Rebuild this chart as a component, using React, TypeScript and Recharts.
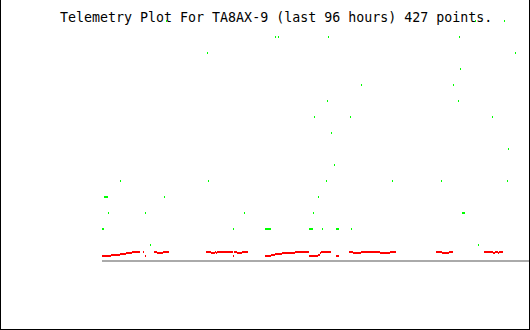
import React from "react";
import { ScatterChart, Scatter, XAxis, YAxis, ReferenceLine } from "recharts";

// hours since start of the 96 hour window, and the level of each green reading
const greenHours = [
  14.5, 23.72, 4.16, 23.94, 0.56, 0.79, 1.01, 1.24, 14.05, 1.46, 9.78, 32.04,
  0.11, 0.34, 29.56, 10.9, 39.01, 39.68, 50.92, 58.34, 50.7, 47.78, 55.87,
  51.6, 52.27, 50.47, 48.67, 47.55, 36.76, 36.98, 37.21, 37.43, 37.66, 37.88,
  46.65, 46.88, 47.1, 47.33, 49.57, 52.72, 52.95, 53.17, 56.09, 83.97, 90.49,
  80.37, 92.96, 80.6, 79.03, 80.15, 87.79, 91.39, 65.31, 76.33, 91.17, 81.05,
  81.27, 81.5, 84.65,
];
const greenLevels = [
  15, 13, 5, 5, 4, 4, 4, 4, 4, 3, 3, 3,
  2, 2, 2, 1, 14, 14, 14, 11, 10, 9, 9,
  8, 6, 5, 4, 3, 2, 2, 2, 2, 2, 2,
  2, 2, 2, 2, 2, 2, 2, 2, 2, 15, 15,
  14, 13, 12, 11, 10, 9, 7, 5, 5, 5, 3,
  3, 3, 1,
];

// red readings held at one level: [from hour, to hour, value]
const redRuns: [number, number, number][] = [
  [0, 2.02, 0.3125], [2.02, 4.05, 0.375], [4.05, 5.4, 0.4375], [5.4, 6.74, 0.5],
  [6.74, 8.54, 0.5625], [9.22, 9.44, 0.5625], [9.67, 9.89, 0.3125],
  [11.69, 12.37, 0.5625], [12.37, 13.71, 0.5], [13.71, 15.06, 0.5625],
  [23.38, 24.51, 0.5625], [24.51, 25.41, 0.5], [25.41, 25.63, 0.5625],
  [25.63, 25.86, 0.5], [25.86, 29.45, 0.5625], [29.45, 29.68, 0.3125],
  [29.68, 30.35, 0.5625], [30.35, 31.48, 0.5], [31.48, 32.82, 0.5625],
  [36.65, 38.0, 0.3125], [38.0, 38.89, 0.375], [38.89, 40.47, 0.4375],
  [40.47, 43.39, 0.5], [43.39, 46.54, 0.5625], [46.54, 48.56, 0.3125],
  [48.56, 49.01, 0.375], [49.01, 49.24, 0.5], [49.24, 51.48, 0.5625],
  [52.61, 53.28, 0.3125], [55.53, 56.43, 0.5625], [56.43, 58.23, 0.5],
  [58.23, 62.5, 0.5625], [62.5, 64.75, 0.5], [64.75, 66.1, 0.5625],
  [75.09, 76.44, 0.5625], [76.44, 78.01, 0.5], [78.01, 78.91, 0.5625],
  [85.88, 87.91, 0.5625], [87.91, 88.36, 0.5], [88.36, 89.03, 0.5625],
  [89.03, 89.26, 0.5], [89.26, 90.15, 0.5625],
];

const title = "Telemetry Plot For TA8AX-9 (last 96 hours) 427 points.";

const greenData = greenHours.map((h, i) => ({ h, v: greenLevels[i] }));

const Tick = (props: any) => (
  <rect x={Math.round(props.cx - 0.5)} y={props.cy - 1} width={1} height={2} fill="#00ff00" />
);

export default function App() {
  return (
    <div
      style={{
        position: "fixed",
        left: 0,
        top: 0,
        width: 530,
        height: 330,
        boxSizing: "border-box",
        background: "#fff",
        borderLeft: "1px solid #000",
        borderRight: "1px solid #000",
        borderBottom: "1px solid #000",
      }}
    >
      <div
        style={{
          position: "absolute",
          left: 59,
          top: 11,
          fontFamily: "'DejaVu Sans Mono', monospace",
          fontSize: "13.3px",
          lineHeight: "13px",
          whiteSpace: "pre",
          color: "#000",
        }}
      >
        {title}
      </div>
      <div style={{ position: "absolute", left: 0, top: 0 }}>
        <ScatterChart width={528} height={329} margin={{ top: 21, right: 0, bottom: 68, left: 101 }}>
          <XAxis type="number" dataKey="h" domain={[0, 96]} hide />
          <YAxis type="number" dataKey="v" domain={[0, 15]} hide />
          <ReferenceLine y={0} stroke="#aaaaaa" strokeWidth={2} />
          {redRuns.map(([a, b, v], i) => (
            <ReferenceLine
              key={i}
              segment={[{ x: a, y: v }, { x: b, y: v }]}
              stroke="#ff0000"
              strokeWidth={2}
            />
          ))}
          <Scatter data={greenData} shape={Tick} isAnimationActive={false} />
        </ScatterChart>
      </div>
    </div>
  );
}
